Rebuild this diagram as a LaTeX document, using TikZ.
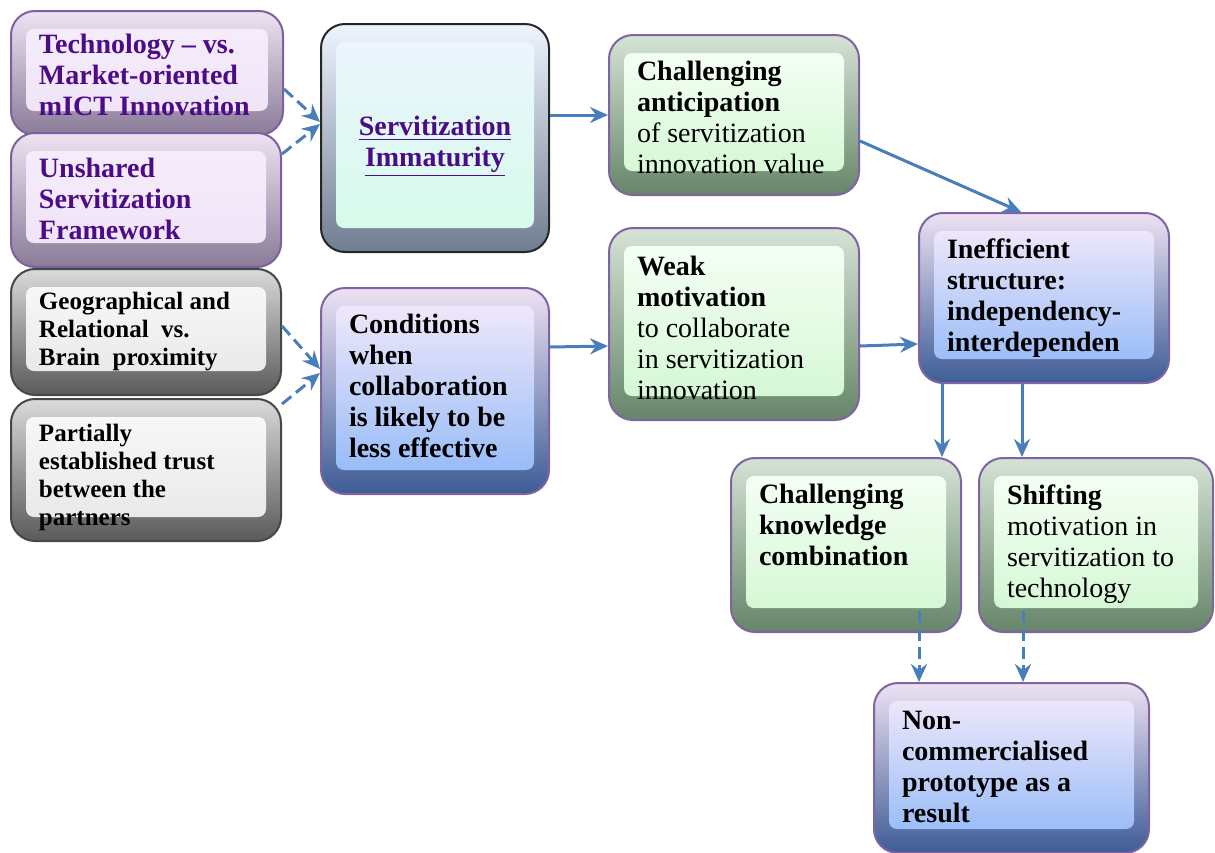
\documentclass[tikz,border=0pt]{standalone}
\usepackage{fontspec}
\setmainfont{Liberation Serif}
\usetikzlibrary{calc,positioning,arrows.meta}

\definecolor{arrowblue}{HTML}{4A7EBB}
\definecolor{txtpurple}{HTML}{4B0C86}
\definecolor{lilacline}{HTML}{7E609E}
\definecolor{lilactop}{HTML}{EDE3F3}
\definecolor{lilacbot}{HTML}{8A7B98}
\definecolor{lilacin}{HTML}{F6EEFB}
\definecolor{lilacinb}{HTML}{EEE2F6}
\definecolor{greytop}{HTML}{DADADA}
\definecolor{greybot}{HTML}{5A5A5A}
\definecolor{mintline}{HTML}{7E64A0}
\definecolor{minttop}{HTML}{D5E3D5}
\definecolor{mintbot}{HTML}{66856A}
\definecolor{mintin}{HTML}{F8FFF8}
\definecolor{mintinb}{HTML}{D0F7D0}
\definecolor{bluetop}{HTML}{EDE2F3}
\definecolor{bluebot}{HTML}{3E5C96}
\definecolor{bluein}{HTML}{F8ECFB}
\definecolor{blueinm}{HTML}{EDE3F9}
\definecolor{blueinb}{HTML}{8CB6F7}
\definecolor{skytop}{HTML}{EEF5FF}
\definecolor{skybot}{HTML}{707C90}
\definecolor{skyinm}{HTML}{CCDFF7}
\definecolor{skyinb}{HTML}{D3FBE8}

% top-aligned text block inside a bevel box
\newcommand{\boxtext}[3]{\parbox[c][#2][t]{#1}{\raggedright #3}}

\tikzset{
  bevel/.style n args={6}{draw=#1, top color=#2, bottom color=#3, line width=1pt, rounded corners=12pt,
    anchor=north west, inner sep=0pt,
    path picture={\shade[top color=#4, middle color=#5, bottom color=#6, rounded corners=4pt]
      ([xshift=7.5pt,yshift=12pt]path picture bounding box.south west) rectangle
      ([xshift=-7.5pt,yshift=-9pt]path picture bounding box.north east);}},
  lilacbox/.style={bevel={lilacline}{lilactop}{lilacbot}{lilacin}{lilacin!50!lilacinb}{lilacinb},
    text=txtpurple, font=\fontsize{14}{15.5}\selectfont\bfseries},
  greybox/.style={bevel={black!72}{greytop}{greybot}{black!2}{black!5}{violet!6!black!10},
    font=\fontsize{12.5}{14}\selectfont\bfseries},
  mintbox/.style={bevel={mintline}{minttop}{mintbot}{mintin}{mintin!50!mintinb}{mintinb},
    font=\fontsize{14}{15.5}\selectfont\bfseries},
  bluebox/.style={bevel={mintline}{bluetop}{bluebot}{bluein}{blueinm}{blueinb},
    font=\fontsize{14}{15.5}\selectfont\bfseries},
  skybox/.style={bevel={black!85}{skytop}{skybot}{skytop}{skyinm}{skyinb},
    text=txtpurple, font=\fontsize{14}{15.5}\selectfont\bfseries},
  link/.style={draw=arrowblue, line width=1.5pt, -{Stealth[length=9pt,width=8pt,inset=3pt]}},
  dashlink/.style={link, dash pattern=on 6pt off 3pt},
}

\begin{document}
\begin{tikzpicture}[x=0.5pt,y=-0.5pt]
  \useasboundingbox (0,0) rectangle (1215,852);
  %left column
  \node[lilacbox, minimum width=136pt, minimum height=62pt] (tech) at (10,10)
    {\boxtext{108pt}{38.5pt}{Technology -- vs.\\Market-oriented\\mICT Innovation}};
  \node[lilacbox, minimum width=135pt, minimum height=67pt] (frame) at (10,132)
    {\boxtext{107pt}{41.5pt}{Unshared\\Servitization\\Framework}};
  \node[greybox, minimum width=135pt, minimum height=63pt] (geo) at (10,268)
    {\boxtext{107pt}{39.5pt}{Geographical and\\Relational\ \ vs.\\Brain\ \ proximity}};
  \node[greybox, minimum width=135pt, minimum height=71pt] (trust) at (10,398)
    {\boxtext{107pt}{45.5pt}{Partially\\established trust\\between the\\partners}};
  %second column
  \node[skybox, minimum width=114pt, minimum height=114pt] (immat) at (320,23)
    {\parbox[c][34pt][b]{100pt}{\centering\underline{Servitization}\\\underline{Immaturity}}};
  \node[bluebox, minimum width=114pt, minimum height=103pt] (cond) at (320,287)
    {\boxtext{86pt}{76.5pt}{Conditions\\when\\collaboration\\is likely to be\\less effective}};
  %third column
  \node[mintbox, minimum width=125pt, minimum height=80pt] (antic) at (608,34)
    {\boxtext{97pt}{53.5pt}{Challenging\\anticipation\\\mdseries of servitization\\innovation value}};
  \node[mintbox, minimum width=125pt, minimum height=96pt] (weak) at (608,227)
    {\boxtext{97pt}{67.5pt}{Weak\\motivation\\\mdseries to collaborate\\in servitization\\innovation}};
  %right part
  \node[bluebox, minimum width=125pt, minimum height=85pt] (ineff) at (918,212)
    {\boxtext{97pt}{59.5pt}{Inefficient\\structure:\\independency-\\interdependen}};
  \node[mintbox, minimum width=115pt, minimum height=87pt] (know) at (730,457)
    {\boxtext{87pt}{60.5pt}{Challenging\\knowledge\\combination}};
  \node[mintbox, minimum width=117pt, minimum height=87pt] (shift) at (978,457)
    {\boxtext{89pt}{60.5pt}{Shifting\\\mdseries motivation in\\servitization to\\technology}};
  \node[bluebox, minimum width=137.5pt, minimum height=85pt] (proto) at (873,682)
    {\boxtext{109.5pt}{56.5pt}{Non-\\commercialised\\prototype as a\\result}};
  %connectors
  \draw[dashlink] ([yshift=-8pt]tech.east) -- ([yshift=8pt]immat.west);
  \draw[dashlink] ([yshift=23pt]frame.east) -- ([yshift=7pt]immat.west);
  \draw[link] (immat.east |- antic.west) -- (antic.west);
  \draw[link] ([yshift=-13pt]antic.east) -- ([xshift=-11.5pt]ineff.north);
  \draw[dashlink] ([yshift=3pt]geo.east) -- ([yshift=11pt]cond.west);
  \draw[dashlink] ([yshift=33pt]trust.east) -- ([yshift=9pt]cond.west);
  \draw[link] ([yshift=22pt]cond.east) -- ([yshift=-11pt]weak.west);
  \draw[link] ([yshift=-11pt]weak.east) -- ([yshift=-23pt]ineff.west);
  \draw[link] ([xshift=-51pt]ineff.south) -- ([xshift=-51pt]ineff.south |- know.north);
  \draw[link] ([xshift=-11pt]ineff.south) -- ([xshift=-11pt]ineff.south |- shift.north);
  \draw[dashlink] ([xshift=36.5pt,yshift=11pt]know.south) -- ([xshift=36.5pt]know.south |- proto.north);
  \draw[dashlink] ([xshift=-36.5pt,yshift=11pt]shift.south) -- ([xshift=-36.5pt]shift.south |- proto.north);
\end{tikzpicture}
\end{document}
